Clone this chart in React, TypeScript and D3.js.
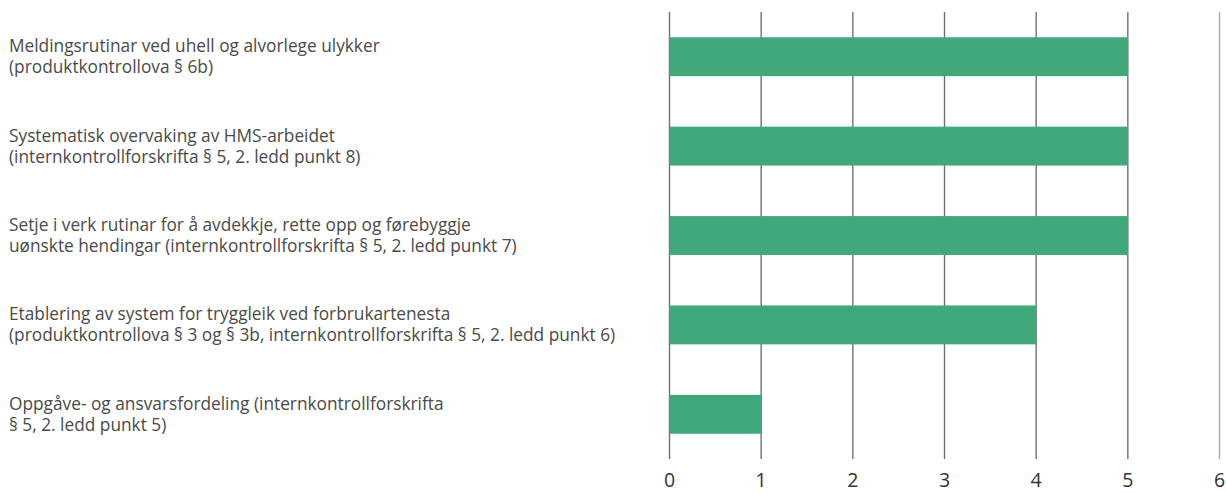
import React from "react";
import * as d3 from "d3";

const categories: string[][] = [
  ["Meldingsrutinar ved uhell og alvorlege ulykker", "(produktkontrollova § 6b)"],
  ["Systematisk overvaking av HMS-arbeidet", "(internkontrollforskrifta § 5, 2. ledd punkt 8)"],
  ["Setje i verk rutinar for å avdekkje, rette opp og førebyggje", "uønskte hendingar (internkontrollforskrifta § 5, 2. ledd punkt 7)"],
  ["Etablering av system for tryggleik ved forbrukartenesta", "(produktkontrollova § 3 og § 3b, internkontrollforskrifta § 5, 2. ledd punkt 6)"],
  ["Oppgåve- og ansvarsfordeling (internkontrollforskrifta", "§ 5, 2. ledd punkt 5)"],
];
const values: number[] = [5, 5, 5, 4, 1];
const ticks: number[] = [0, 1, 2, 3, 4, 5, 6];

const W = 1226;
const H = 493;
const LABEL_FONT = "'Open Sans', sans-serif";
const TICK_FONT = "'Open Sans', sans-serif";

export default function App() {
  const x = d3.scaleLinear().domain([0, 6]).range([669.5, 1219.5]);
  const y = d3
    .scaleBand<number>()
    .domain(d3.range(categories.length))
    .range([12, 459])
    .paddingInner(0.565)
    .paddingOuter(0.2825);

  return (
    <svg
      width={W}
      height={H}
      style={{ position: "absolute", left: 0, top: 0, display: "block", background: "#fff" }}
    >
      {ticks.map((t) => (
        <g key={t}>
          <line
            x1={x(t)}
            x2={x(t)}
            y1={12}
            y2={459}
            stroke={t === 6 ? "#a8a8a8" : "#707070"}
            strokeWidth={1.4}
          />
          <text
            x={x(t)}
            y={487}
            textAnchor="middle"
            fontFamily={TICK_FONT}
            fontSize={19.5}
            fill="#333"
          >
            {t}
          </text>
        </g>
      ))}
      {values.map((v, i) => (
        <rect
          key={i}
          x={x(0)}
          y={y(i)!}
          width={x(v) - x(0)}
          height={y.bandwidth()}
          fill="#41a87b"
        />
      ))}
      {categories.map((lines, i) => {
        const cy = y(i)! + y.bandwidth() / 2;
        return (
          <text
            key={i}
            x={9}
            fontFamily={LABEL_FONT}
            fontSize={17.3}
            fill="#4a4a4a"
          >
            {lines.map((l, j) => (
              <tspan key={j} x={9} y={cy - 10.5 + j * 21 + 6}>
                {l}
              </tspan>
            ))}
          </text>
        );
      })}
    </svg>
  );
}
